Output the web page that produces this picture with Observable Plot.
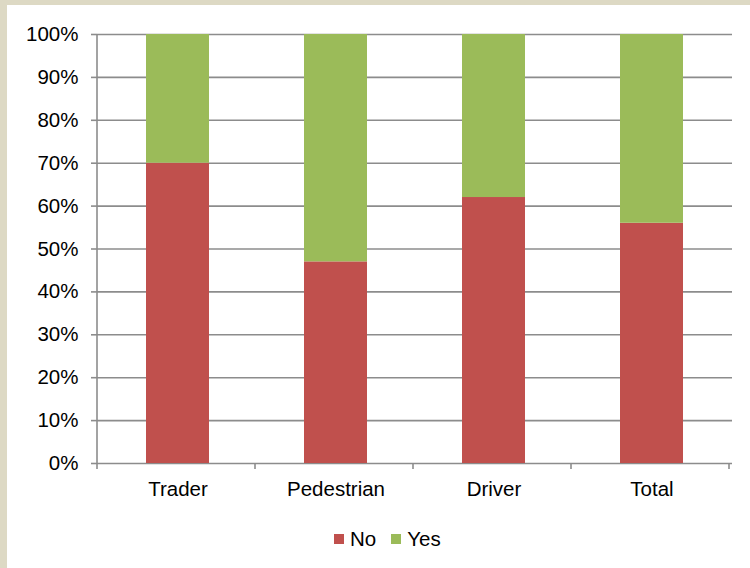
<!DOCTYPE html>
<html>
<head>
<meta charset="utf-8">
<script src="https://cdn.jsdelivr.net/npm/d3@7"></script>
<script src="https://cdn.jsdelivr.net/npm/@observablehq/plot@0.6"></script>
<style>
  html, body { margin: 0; padding: 0; }
  body { width: 750px; height: 568px; background: #DDD9C4; position: relative; overflow: hidden;
         font-family: "Liberation Sans", Arial, sans-serif; }
  #panel { position: absolute; left: 7px; top: 5px; width: 743px; height: 563px; background: #fff; }
  #chart { position: absolute; left: 0; top: 0; }
  #legend { position: absolute; left: 327px; top: 522px; display: flex; align-items: center;
            font-size: 20.5px; color: #000; }
  .sw { width: 10px; height: 10px; display: inline-block; margin-right: 6px; }
  .item { display: flex; align-items: center; margin-right: 15px; }
</style>
</head>
<body>
<div id="panel">
  <div id="chart"></div>
  <div id="legend"></div>
</div>
<script>
// Share of respondents answering No / Yes, per group (percent)
const categories = ["Trader", "Pedestrian", "Driver", "Total"];
const noShare = [70, 47, 62, 56];
const yesShare = [30, 53, 38, 44];
const answers = ["No", "Yes"];
const answerColors = ["#C0504D", "#9BBB59"];
const yTicks = [0, 10, 20, 30, 40, 50, 60, 70, 80, 90, 100];

const rows = categories.flatMap((c, i) => [
  {category: c, answer: "No", share: noShare[i]},
  {category: c, answer: "Yes", share: yesShare[i]}
]);

const gray = "#8c8c8c";

const chart = Plot.plot({
  width: 743,
  height: 510,
  marginLeft: 90,
  marginRight: 18,
  marginTop: 29,
  marginBottom: 52,
  style: {fontFamily: "'Liberation Sans', Arial, sans-serif", fontSize: "20.5px", color: "#000", background: "transparent", overflow: "visible"},
  x: {domain: categories, paddingInner: 0.6, paddingOuter: 0.3, label: null},
  y: {domain: [0, 100], label: null},
  color: {domain: answers, range: answerColors},
  marks: [
    Plot.gridY(yTicks, {stroke: gray, strokeOpacity: 1, strokeWidth: 1.6}),
    Plot.barY(rows, {x: "category", y: "share", fill: "answer"}),
    Plot.axisY(yTicks, {tickSize: 6, tickPadding: 13, stroke: gray, strokeWidth: 1.6, tickFormat: d => d + "%", fontSize: 20.5, label: null}),
    Plot.axisX({tickSize: 0, tickPadding: 18, fontSize: 20.5, label: null})
  ]
});

// Vertical axis line and category boundary ticks, placed from the plot's own scales
const xs = chart.scale("x");
const ys = chart.scale("y");
const svg = d3.select(chart);
const y0 = ys.apply(0), y100 = ys.apply(100);
svg.append("line")
  .attr("x1", xs.range[0]).attr("x2", xs.range[0])
  .attr("y1", y100).attr("y2", y0)
  .attr("stroke", gray).attr("stroke-width", 1.6);
d3.range(categories.length + 1).forEach(i => {
  const bx = xs.range[0] + i * xs.step;
  svg.append("line")
    .attr("x1", bx).attr("x2", bx)
    .attr("y1", y0).attr("y2", y0 + 6)
    .attr("stroke", gray).attr("stroke-width", 1.6);
});

document.getElementById("chart").appendChild(chart);

// Legend
const legend = d3.select("#legend");
answers.forEach((a, i) => {
  const item = legend.append("div").attr("class", "item");
  item.append("span").attr("class", "sw").style("background", answerColors[i]);
  item.append("span").text(a);
});
</script>
</body>
</html>
